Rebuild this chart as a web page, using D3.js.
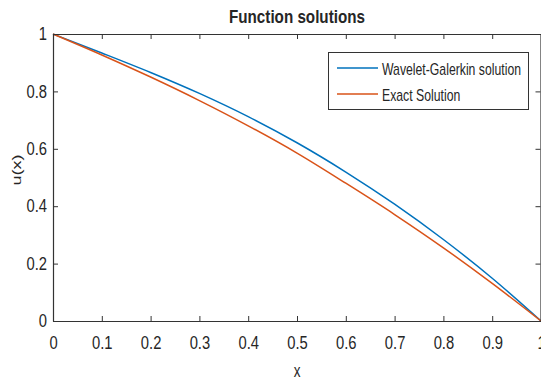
<!DOCTYPE html>
<html>
<head>
<meta charset="utf-8">
<script src="https://cdn.jsdelivr.net/npm/d3@7"></script>
<style>
    body { margin: 0; background: #fff; }
    text { font-family: "Liberation Sans", Arial, sans-serif; fill: #262626; }
</style>
</head>
<body>
<svg id="chart" width="541" height="380"></svg>
<script>
// values
var xs = [0, 0.1, 0.2, 0.3, 0.4, 0.5, 0.6, 0.7, 0.8, 0.9, 1];
var galerkin = [1, 0.934, 0.866, 0.793, 0.712, 0.621, 0.519, 0.407, 0.284, 0.149, 0];
var exact = [1, 0.927, 0.850, 0.768, 0.680, 0.585, 0.480, 0.371, 0.255, 0.131, 0];

var seriesNames = ["Wavelet-Galerkin solution", "Exact Solution"];
var seriesColors = ["#0072BD", "#D95319"];

var xTicks = [0, 0.1, 0.2, 0.3, 0.4, 0.5, 0.6, 0.7, 0.8, 0.9, 1];
var yTicks = [0, 0.2, 0.4, 0.6, 0.8, 1];

var margin = {top: 34, right: 0, bottom: 59, left: 53};
var width = 541 - margin.left - margin.right;
var height = 380 - margin.top - margin.bottom;
var axisColor = "#333";

var svg = d3.select("#chart");
var g = svg.append("g").attr("transform", "translate(" + margin.left + "," + margin.top + ")");

var x = d3.scaleLinear().domain([0, 1]).range([0, width]);
var y = d3.scaleLinear().domain([0, 1]).range([height, 0]);

// the picture is squeezed sideways, so text is narrowed to match
function squeeze(sel, k) {
    sel.each(function () {
        var w = this.getComputedTextLength();
        d3.select(this).attr("textLength", w * k).attr("lengthAdjust", "spacingAndGlyphs");
    });
}

var line = d3.line()
    .x(function (d) { return x(d[0]); })
    .y(function (d) { return y(d[1]); })
    .curve(d3.curveMonotoneX);

var series = [galerkin, exact];
series.forEach(function (vals, i) {
    g.append("path")
        .datum(xs.map(function (v, j) { return [v, vals[j]]; }))
        .attr("fill", "none")
        .attr("stroke", seriesColors[i])
        .attr("stroke-width", 1.5)
        .attr("d", line);
});

// axes, ticks pointing inward like matlab
var fmt = function (d) { return String(+d.toFixed(1)); };
var xAxis = g.append("g").attr("transform", "translate(0," + height + ")")
    .call(d3.axisBottom(x).tickValues(xTicks).tickSizeInner(-5).tickSizeOuter(0).tickPadding(15).tickFormat(fmt));
var yAxis = g.append("g")
    .call(d3.axisLeft(y).tickValues(yTicks).tickSizeInner(-5).tickSizeOuter(0).tickPadding(6).tickFormat(fmt));
var xTop = g.append("g")
    .call(d3.axisTop(x).tickValues(xTicks).tickSizeInner(-5).tickSizeOuter(0).tickFormat(""));
var yRight = g.append("g").attr("transform", "translate(" + (width - 0.5) + ",0)")
    .call(d3.axisRight(y).tickValues(yTicks).tickSizeInner(-5).tickSizeOuter(0).tickFormat(""));

[xAxis, yAxis, xTop, yRight].forEach(function (a) {
    a.selectAll("path, line").attr("stroke", axisColor);
    a.select(".domain").attr("stroke-width", 1.2);
    a.selectAll("text").attr("font-size", 18).attr("fill", axisColor)
        .style("font-family", "'Liberation Sans', Arial, sans-serif");
});
xAxis.selectAll("text").attr("dy", "0.71em");
squeeze(xAxis.selectAll("text"), 0.82);
squeeze(yAxis.selectAll("text"), 0.82);

// title and labels
var title = svg.append("text")
    .attr("x", margin.left + width / 2)
    .attr("y", 23)
    .attr("text-anchor", "middle")
    .attr("font-size", 19)
    .attr("font-weight", "bold")
    .attr("fill", "#000")
    .text("Function solutions");
squeeze(title, 0.8);

var xLabel = svg.append("text")
    .attr("x", margin.left + width / 2)
    .attr("y", 377)
    .attr("text-anchor", "middle")
    .attr("font-size", 18)
    .text("x");
squeeze(xLabel, 0.75);

svg.append("text")
    .attr("transform", "translate(21,170) scale(0.75,1) rotate(-90)")
    .attr("text-anchor", "middle")
    .attr("font-size", 18)
    .text("u(x)");

// legend
var legend = svg.append("g").attr("transform", "translate(328,52)");
legend.append("rect")
    .attr("x", 0.5).attr("y", 0.5)
    .attr("width", 200).attr("height", 57)
    .attr("fill", "#fff")
    .attr("stroke", axisColor)
    .attr("stroke-width", 1);

seriesNames.forEach(function (name, i) {
    var ly = 16 + i * 26;
    legend.append("line")
        .attr("x1", 9).attr("x2", 50)
        .attr("y1", ly).attr("y2", ly)
        .attr("stroke", seriesColors[i])
        .attr("stroke-width", 1.5);
    var t = legend.append("text")
        .attr("x", 54)
        .attr("y", ly + 7)
        .attr("font-size", 17)
        .text(name);
    squeeze(t, 0.72);
});
</script>
</body>
</html>
